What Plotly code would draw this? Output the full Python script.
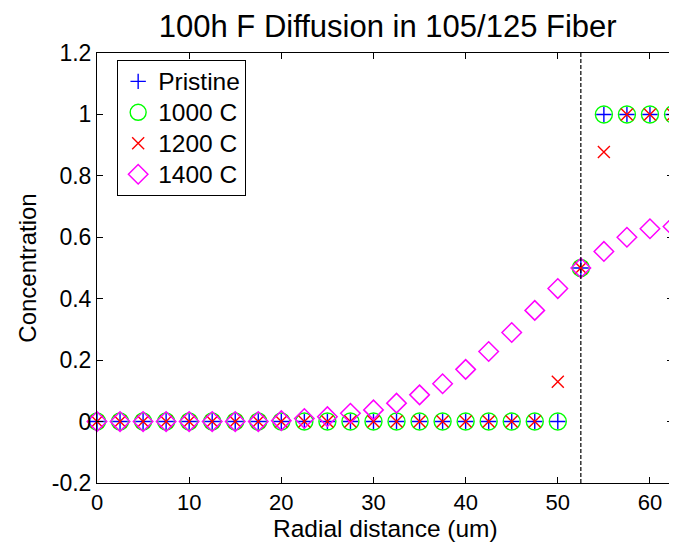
import plotly.graph_objects as go

# ---- data ----
radial_um = [0, 2.5, 5, 7.5, 10, 12.5, 15, 17.5, 20, 22.5, 25, 27.5, 30, 32.5,
             35, 37.5, 40, 42.5, 45, 47.5, 50, 52.5, 55, 57.5, 60, 62.5]
pristine = [0]*21 + [0.5, 1, 1, 1, 1]
c1000 = [0]*21 + [0.5, 1, 1, 1, 1]
c1200 = [0]*20 + [0.13, 0.5, 0.878, 1, 1, 1]
c1400 = [0, 0, 0, 0, 0, 0, 0, 0, 0.003, 0.01, 0.016, 0.027, 0.038, 0.06,
         0.087, 0.123, 0.17, 0.228, 0.29, 0.362, 0.433, 0.5, 0.554, 0.6, 0.628, 0.635]
core_boundary_um = 52.5

series_names = ["Pristine", "1000 C", "1200 C", "1400 C"]
x_tick_vals = [0, 10, 20, 30, 40, 50, 60]
x_tick_text = ["0", "10", "20", "30", "40", "50", "60"]
y_tick_vals = [-0.2, 0, 0.2, 0.4, 0.6, 0.8, 1.0, 1.2]
y_tick_text = ["-0.2", "0", "0.2", "0.4", "0.6", "0.8", "1", "1.2"]
x_title = "Radial distance (um)"
y_title = "Concentration"
chart_title = "100h F Diffusion in 105/125 Fiber"

FONT = "Liberation Sans, Arial, sans-serif"
W, H = 669, 535  # page adds an 8px body margin

fig = go.Figure()
styles = [
    dict(symbol="cross-thin-open", size=11, color="#0000ff", lw=1.4),
    dict(symbol="circle-open", size=17, color="#00ff00", lw=1.4),
    dict(symbol="x-thin-open", size=12, color="#ff0000", lw=1.4),
    dict(symbol="diamond-open", size=15, color="#ff00ff", lw=1.5),
]
for name, ys, st in zip(series_names, [pristine, c1000, c1200, c1400], styles):
    fig.add_trace(go.Scatter(
        x=radial_um, y=ys, mode="markers",
        name="<span style='font-size:24.5px'>" + name + "</span>", cliponaxis=False,
        marker=dict(symbol=st["symbol"], size=st["size"], color=st["color"],
                    line=dict(color=st["color"], width=st["lw"])),
    ))

fig.add_shape(type="line", xref="x", yref="paper", x0=core_boundary_um, x1=core_boundary_um,
              y0=0, y1=1, line=dict(color="black", width=1.2, dash="4px,2px"))

fig.add_annotation(text=x_title, xref="paper", yref="paper", x=0.5, y=0,
                   xanchor="center", yanchor="middle", yshift=-45, showarrow=False,
                   font=dict(size=24.5))

fig.update_layout(
    width=W, height=H,
    margin=dict(l=89, r=4, t=45, b=60),
    paper_bgcolor="white", plot_bgcolor="white",
    font=dict(family=FONT, size=23, color="black"),
    title=dict(text=chart_title, x=0.5676, xanchor="center",
               y=(H - 18) / H, yanchor="middle", font=dict(size=31)),
    showlegend=True,
    legend=dict(x=0.035, y=0.984, xanchor="left", yanchor="top",
                bordercolor="black", borderwidth=1, bgcolor="white",
                font=dict(size=21.5), itemsizing="trace"),
)
fig.update_xaxes(range=[0, 62.5], tickvals=x_tick_vals, ticktext=x_tick_text,
                 ticks="inside", ticklen=6, tickcolor="black", showline=True,
                 linecolor="black", linewidth=1, mirror="ticks", showgrid=False,
                 zeroline=False, automargin=False,
                 tickfont=dict(size=22))
fig.update_yaxes(range=[-0.2, 1.2], tickvals=y_tick_vals, ticktext=y_tick_text,
                 ticks="inside", ticklen=6, tickcolor="black", showline=True,
                 linecolor="black", linewidth=1, mirror="ticks", showgrid=False,
                 zeroline=False, automargin=False,
                 title=dict(text=y_title, standoff=8, font=dict(size=24)),
                 tickfont=dict(size=23))

fig.write_html("out.html")
